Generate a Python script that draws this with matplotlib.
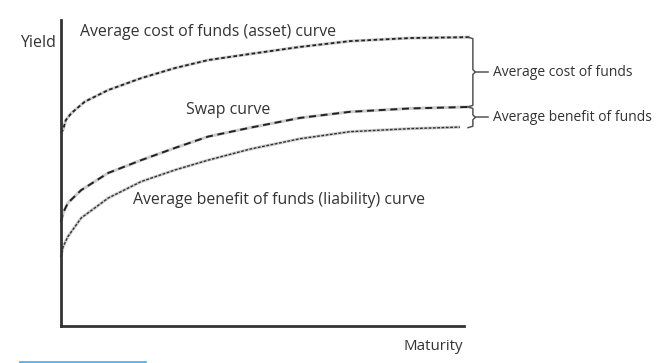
import numpy as np
import matplotlib
matplotlib.use("Agg")
import matplotlib.pyplot as plt
from matplotlib.lines import Line2D

plt.rcParams['font.family'] = ['Open Sans', 'DejaVu Sans']

# maturity / yield values (arbitrary units 0-10)
cost_x = [0, 0.05, 0.12, 0.26, 0.59, 1.17, 1.99, 2.83, 3.65, 4.69, 5.93, 7.17, 8.66, 10.15]
cost_y = [6.31, 6.41, 6.73, 6.96, 7.33, 7.71, 8.10, 8.43, 8.69, 8.89, 9.12, 9.31, 9.41, 9.44]

swap_x = [0, 0.05, 0.17, 0.50, 1.17, 1.99, 2.83, 3.65, 4.69, 5.93, 7.17, 8.66, 10.15]
swap_y = [3.40, 3.69, 4.02, 4.44, 5.00, 5.42, 5.82, 6.19, 6.48, 6.80, 7.00, 7.11, 7.16]

ben_x = [0, 0.05, 0.17, 0.50, 1.17, 1.99, 2.83, 3.65, 4.69, 5.93, 7.17, 8.66, 9.90]
ben_y = [2.25, 2.58, 2.92, 3.53, 4.18, 4.72, 5.10, 5.42, 5.78, 6.12, 6.35, 6.45, 6.50]

fig = plt.figure(figsize=(6.68, 3.63), dpi=100)
ax = fig.add_axes([61/668, 37/363, 403/668, 306/363])
ax.set_xlim(0, 10)
ax.set_ylim(0, 10)
for s in ['top', 'right']:
    ax.spines[s].set_visible(False)
for s in ['left', 'bottom']:
    ax.spines[s].set_linewidth(2)
    ax.spines[s].set_color('#333333')
ax.set_xticks([])
ax.set_yticks([])

# grey halo under each dashed curve
for xs, ys in [(cost_x, cost_y), (swap_x, swap_y), (ben_x, ben_y)]:
    ax.plot(xs, ys, color='#cccccc', lw=2.2, clip_on=False, solid_capstyle='butt',
            solid_joinstyle='round')
ax.plot(cost_x, cost_y, color='#222222', lw=1.3, dashes=(2.0, 1.4), clip_on=False)
ax.plot(swap_x, swap_y, color='#222222', lw=1.4, dashes=(3.6, 2.4), clip_on=False)
ax.plot(ben_x, ben_y, color='#333333', lw=1.0, dashes=(2, 1.1), clip_on=False)

# braces on the right
bx = 10.22
def brace(y0, y1):
    ym = (y0 + y1) / 2
    hk = 0.12
    ax.plot([bx - hk, bx, bx, bx + 0.06, bx, bx, bx - hk],
            [y0, y0 - 0.05, ym + 0.08, ym, ym - 0.08, y1 + 0.05, y1],
            color='#555555', lw=1.1, clip_on=False)
    ax.plot([bx + 0.06, bx + 0.38], [ym, ym], color='#555555', lw=1.1, clip_on=False)
    return ym

ym1 = brace(cost_y[-1], swap_y[-1])
ym2 = brace(swap_y[-1], ben_y[-1] - 0.02)

tc = '#333333'
ax.text(10.72, ym1, 'Average cost of funds', fontsize=10, color=tc, va='center', ha='left', clip_on=False)
ax.text(10.72, ym2, 'Average benefit of funds', fontsize=10, color=tc, va='center', ha='left', clip_on=False)
ax.text(0.47, 9.6, 'Average cost of funds (asset) curve', fontsize=11.4, color=tc, va='center', ha='left')
ax.text(3.10, 7.06, 'Swap curve', fontsize=11.4, color=tc, va='center', ha='left')
ax.text(1.79, 4.12, 'Average benefit of funds (liability) curve', fontsize=11.4, color=tc, va='center', ha='left')

fig.text(20/668, 1 - 43/363, 'Yield', fontsize=11.5, color=tc, va='center', ha='left')
fig.text(463/668, 1 - 347/363, 'Maturity', fontsize=10.8, color=tc, va='center', ha='right')

fig.add_artist(Line2D([20/668, 145/668], [1 - 362/363, 1 - 362/363], color='#5ab6e0', lw=2,
                      transform=fig.transFigure))

fig.savefig('out.png', dpi=100)
